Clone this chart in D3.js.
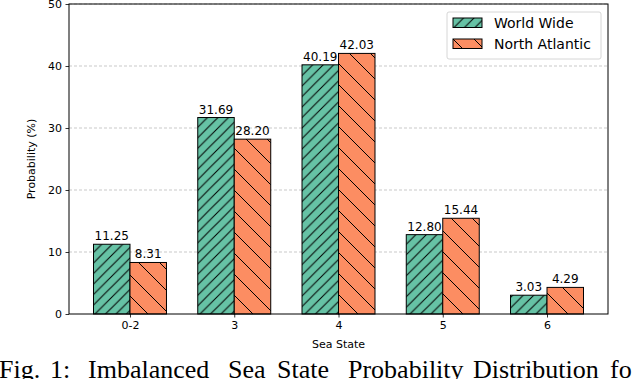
<!DOCTYPE html>
<html>
<head>
<meta charset="utf-8">
<script src="https://cdn.jsdelivr.net/npm/d3@7"></script>
<style>
  body { margin: 0; background: #fff; }
  svg { display: block; }
</style>
</head>
<body>
<div id="chart"></div>
<script>
// sea state probability data
const categories = ['0-2', '3', '4', '5', '6'];
const worldWide = [11.25, 31.69, 40.19, 12.80, 3.03];
const northAtlantic = [8.31, 28.20, 42.03, 15.44, 4.29];
const yTicks = [0, 10, 20, 30, 40, 50];
const seriesNames = ['World Wide', 'North Atlantic'];
const captionWords = ['Fig.', '1:', 'Imbalanced', 'Sea', 'State', 'Probability', 'Distribution', 'fo'];
const captionX = [-1, 50, 88, 228, 277, 348, 473, 610];

const width = 640, height = 379;
const margin = { left: 69, right: 32, top: 4, bottom: 65 };
const plotW = width - margin.left - margin.right;
const plotH = height - margin.top - margin.bottom;

const svg = d3.select('#chart')
    .append('svg')
    .attr('width', width)
    .attr('height', height)
    .style('font-family', '"DejaVu Sans", sans-serif');

const defs = svg.append('defs');

// diagonal hatch, anchored to user space so it runs on across bars
function addHatch(id, color, size, forward) {
    const p = defs.append('pattern')
        .attr('id', id)
        .attr('patternUnits', 'userSpaceOnUse')
        .attr('width', size)
        .attr('height', size);
    p.append('rect').attr('width', size).attr('height', size).attr('fill', color);
    const lines = forward
        ? [[0, size, size, 0], [-2, 2, 2, -2], [size - 2, size + 2, size + 2, size - 2]]
        : [[0, 0, size, size], [-2, size - 2, 2, size + 2], [size - 2, -2, size + 2, 2]];
    lines.forEach(l => {
        p.append('line')
            .attr('x1', l[0]).attr('y1', l[1]).attr('x2', l[2]).attr('y2', l[3])
            .attr('stroke', '#000').attr('stroke-width', 1);
    });
}
addHatch('hatchGreen', '#66c2a5', 10.5, true);
addHatch('hatchOrange', '#fc8d62', 21, false);

const fills = ['url(#hatchGreen)', 'url(#hatchOrange)'];
const series = [worldWide, northAtlantic];

const g = svg.append('g').attr('transform', `translate(${margin.left},${margin.top})`);

const x = d3.scaleLinear().domain([-0.585, categories.length - 1 + 0.585]).range([0, plotW]);
const y = d3.scaleLinear().domain([0, 50]).range([plotH, 0]);
const barW = 0.35;

// grid
g.append('g')
    .selectAll('line')
    .data(yTicks.slice(1))
    .join('line')
    .attr('x1', 0).attr('x2', plotW)
    .attr('y1', d => y(d)).attr('y2', d => y(d))
    .attr('stroke', '#bbb')
    .attr('stroke-width', 0.8)
    .attr('stroke-dasharray', '3,2');

// bars
series.forEach((vals, si) => {
    const offset = si === 0 ? -barW : 0;
    const bg = g.append('g');
    bg.selectAll('rect')
        .data(vals)
        .join('rect')
        .attr('x', (d, i) => x(i + offset))
        .attr('y', d => y(d))
        .attr('width', x(barW) - x(0))
        .attr('height', d => y(0) - y(d))
        .attr('fill', fills[si])
        .attr('stroke', '#000')
        .attr('stroke-width', 1);
    bg.selectAll('text')
        .data(vals)
        .join('text')
        .attr('x', (d, i) => x(i + offset + barW / 2))
        .attr('y', d => y(d) - 4)
        .attr('text-anchor', 'middle')
        .attr('font-size', 12)
        .attr('fill', '#000')
        .text(d => d.toFixed(2));
});

// axes
const yAxis = g.append('g')
    .call(d3.axisLeft(y).tickValues(yTicks).tickSize(3.5).tickPadding(3.5));
const xAxis = g.append('g')
    .attr('transform', `translate(0,${plotH})`)
    .call(d3.axisBottom(x).tickValues(d3.range(categories.length))
        .tickFormat(i => categories[i]).tickSize(3.5).tickPadding(3.5));
[yAxis, xAxis].forEach(a => {
    a.select('.domain').remove();
    a.selectAll('text').attr('font-size', 11).attr('font-family', '"DejaVu Sans", sans-serif').attr('fill', '#000');
    a.selectAll('line').attr('stroke', '#000').attr('stroke-width', 0.8);
});

// frame
g.append('rect')
    .attr('width', plotW).attr('height', plotH)
    .attr('fill', 'none').attr('stroke', '#000').attr('stroke-width', 1);

// axis labels
g.append('text')
    .attr('transform', `translate(${-34},${plotH / 2}) rotate(-90)`)
    .attr('text-anchor', 'middle')
    .attr('font-size', 11)
    .text('Probability (%)');
g.append('text')
    .attr('x', plotW / 2)
    .attr('y', plotH + 34)
    .attr('text-anchor', 'middle')
    .attr('font-size', 11)
    .text('Sea State');

// legend
const lg = svg.append('g').attr('transform', 'translate(447,12)');
lg.append('rect')
    .attr('width', 154).attr('height', 47).attr('rx', 2)
    .attr('fill', '#fff').attr('fill-opacity', 0.8)
    .attr('stroke', '#ccc').attr('stroke-width', 0.8);
seriesNames.forEach((name, i) => {
    const row = lg.append('g').attr('transform', `translate(6,${6 + i * 21})`);
    row.append('rect')
        .attr('width', 29).attr('height', 9.5)
        .attr('fill', fills[i]).attr('stroke', '#000').attr('stroke-width', 1);
    row.append('text')
        .attr('x', 41).attr('y', 5)
        .attr('dominant-baseline', 'central')
        .attr('font-size', 14)
        .text(name);
});

// caption (cut off by the bottom edge, as in the source figure)
svg.append('g')
    .selectAll('text')
    .data(captionWords)
    .join('text')
    .attr('x', (d, i) => captionX[i])
    .attr('y', 378)
    .attr('font-family', '"Liberation Serif", "Times New Roman", serif')
    .attr('font-size', 26)
    .attr('fill', '#000')
    .text(d => d);
</script>
</body>
</html>
